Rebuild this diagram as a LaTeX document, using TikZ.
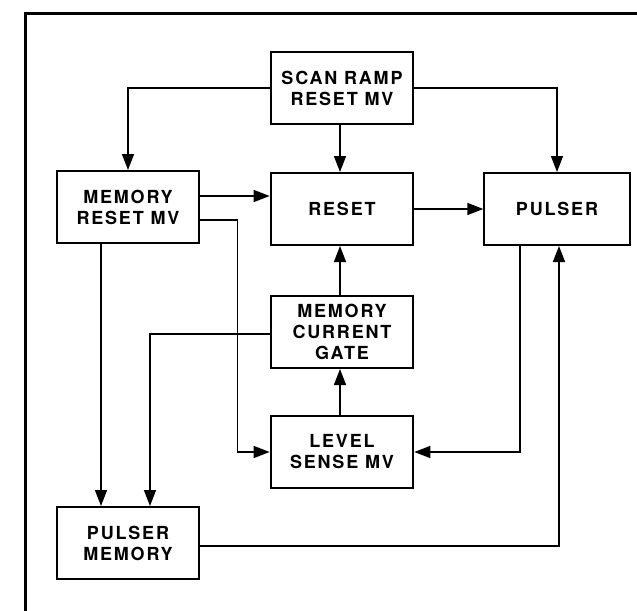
\documentclass[tikz,border=0pt]{standalone}
\usepackage{fontspec}
\setmainfont[LetterSpace=10]{TeX Gyre Heros}
\usetikzlibrary{arrows.meta}

\tikzset{
	blk/.style={draw, line width=1.5pt, minimum width=107pt, minimum height=54pt, inner sep=0pt, align=center, font=\fontsize{13.5}{15.75}\selectfont\bfseries},
	arr/.style={line width=1.1pt, -{Triangle[length=12pt,width=9pt]}}
}

\begin{document}
\begin{tikzpicture}[x=0.75pt,y=0.75pt,yscale=-1,xscale=1]
				\useasboundingbox (0,0) rectangle (637,611);
				
				%Frame
				\draw [line width=2.25pt] (25,611) -- (25,13) -- (640,13) ;
				
				% Text Node
				\node [blk] (scan) at (342,88) {SCAN RAMP\\RESET MV};
				% Text Node
				\node [blk] (mreset) at (128,207) {MEMORY\\RESET MV};
				% Text Node
				\node [blk] (reset) at (342,209) {RESET};
				% Text Node
				\node [blk, minimum width=109pt] (pulser) at (557,209) {PULSER};
				% Text Node
				\node [blk] (gate) at (342,332) {MEMORY\\CURRENT\\GATE};
				% Text Node
				\node [blk] (level) at (342,452) {LEVEL\\SENSE MV};
				% Text Node
				\node [blk] (pmem) at (128,543) {PULSER\\MEMORY};
				
				%Straight Lines
				\draw [arr] (scan.west) -| (mreset.north) ;
				\draw [arr] (scan.east) -| (pulser.north) ;
				\draw [arr] ([xshift=-1.5pt]scan.south) -- ([xshift=-1.5pt]reset.north) ;
				\draw [arr] ([yshift=-8.25pt]mreset.east) -- ([yshift=-8.25pt]mreset.east -| reset.west) ;
				\draw [arr] (reset.east) -- (pulser.west) ;
				\draw [arr] ([yshift=9.75pt]mreset.east) -- ++(37,0) |- (level.west) ;
				\draw [arr] ([xshift=-1.5pt]gate.north) -- ([xshift=-1.5pt]reset.south) ;
				\draw [arr] ([xshift=-1.5pt]level.north) -- ([xshift=-1.5pt]gate.south) ;
				\draw [arr] ([xshift=-27.75pt]pulser.south) |- (level.east) ;
				\draw [arr] ([yshift=2.25pt]pmem.east) -| ([xshift=1.5pt]pulser.south) ;
				\draw [arr] ([yshift=1.5pt]gate.west) -| ([xshift=16.5pt]pmem.north) ;
				\draw [arr] ([xshift=-20.25pt]mreset.south) -- ([xshift=-20.25pt]pmem.north) ;
				
\end{tikzpicture}
\end{document}
